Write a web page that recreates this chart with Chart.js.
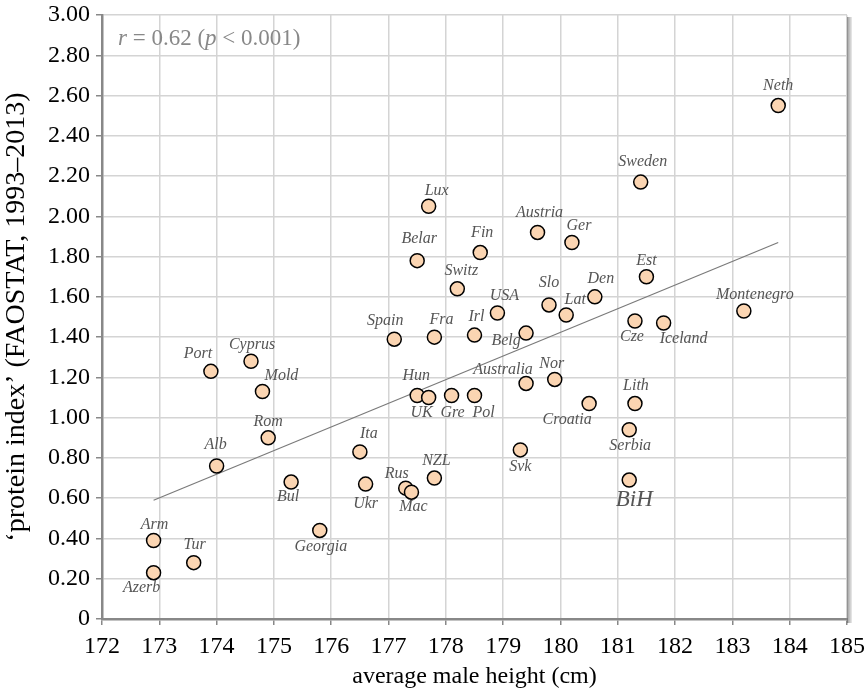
<!DOCTYPE html>
<html><head><meta charset="utf-8">
<script src="https://cdn.jsdelivr.net/npm/chart.js@4"></script>
<style>html,body{margin:0;padding:0;background:#fff}#wrap{width:867px;height:692px;position:relative}</style>
</head><body><div id="wrap"><canvas id="c"></canvas></div>
<script>
const countries = ['Neth','Sweden','Lux','Austria','Ger','Belar','Fin','Switz','Est','Den','Slo','Lat','USA','Montenegro','Cze','Iceland','Fra','Irl','Belg','Spain','Port','Cyprus','Mold','Hun','UK','Gre','Pol','Australia','Nor','Croatia','Lith','Serbia','Svk','BiH','NZL','Rus','Mac','Rom','Alb','Bul','Ita','Ukr','Georgia','Arm','Tur','Azerb'];
const heights = [183.8,181.4,177.7,179.6,180.2,177.5,178.6,178.2,181.5,180.6,179.8,180.1,178.9,183.2,181.3,181.8,177.8,178.5,179.4,177.1,173.9,174.6,174.8,177.5,177.7,178.1,178.5,179.4,179.9,180.5,181.3,181.2,179.3,181.2,177.8,177.3,177.4,174.9,174.0,175.3,176.5,176.6,175.8,172.9,173.6,172.9];
const proteinIndex = [2.55,2.17,2.05,1.92,1.87,1.78,1.82,1.64,1.70,1.60,1.56,1.51,1.52,1.53,1.48,1.47,1.40,1.41,1.42,1.39,1.23,1.28,1.13,1.11,1.10,1.11,1.11,1.17,1.19,1.07,1.07,0.94,0.84,0.69,0.70,0.65,0.63,0.90,0.76,0.68,0.83,0.67,0.44,0.39,0.28,0.23];
const trendHeights = [172.9, 183.8];
const trendProtein = [0.59, 1.87];
const xTitle = 'average male height (cm)';
const yTitle = '\u2018protein index\u2019 (FAOSTAT, 1993\u20132013)';

// label placement (style only): pixel offsets from the point
const labelOffsets = [[0,-20],[2,-20],[8,-15],[2,-20],[7,-17],[2,-22],[2,-20],[4,-18],[0,-16],[6,-18],[0,-22],[9,-15],[7,-17],[11,-16],[-3,16],[20,16],[7,-17],[2,-18],[-20,8],[-9,-18],[-13,-18],[1,-16],[19,-16],[-1,-20],[-7,15],[1,17],[9,17],[-23,-14],[-3,-16],[-22,16],[1,-18],[1,16],[0,17],[5,20],[2,-17],[-9,-14],[2,15],[0,-16],[-1,-21],[-3,15],[9,-18],[0,20],[1,16],[1,-16],[1,-18],[-12,15]];

const SERIF = "'Liberation Serif','Times New Roman',serif";

const labelPlugin = {
  id: 'labels',
  afterDatasetsDraw(chart) {
    const meta = chart.getDatasetMeta(1);
    const ctx = chart.ctx;
    ctx.save();
    ctx.fillStyle = '#555';
    ctx.textAlign = 'center';
    ctx.textBaseline = 'middle';
    meta.data.forEach((pt, i) => {
      const name = countries[i];
      const off = labelOffsets[i];
      ctx.font = (name === 'BiH' ? 'italic 23px ' : 'italic 16px ') + SERIF;
      ctx.fillText(name, pt.x + off[0], pt.y + off[1]);
    });
    ctx.restore();
  },
  afterDraw(chart) {
    const ctx = chart.ctx, a = chart.chartArea;
    ctx.save();
    const g = ctx.createLinearGradient(a.right, 0, a.right + 5, 0);
    g.addColorStop(0, 'rgba(0,0,0,0.4)');
    g.addColorStop(1, 'rgba(0,0,0,0.08)');
    ctx.fillStyle = g;
    ctx.fillRect(a.right, a.top + 2, 5, a.bottom - a.top + 2);
    const parts = [['r', true], [' = 0.62 (', false], ['p', true], [' < 0.001)', false]];
    let x = a.left + 16;
    const y = a.top + 24;
    ctx.fillStyle = '#888';
    ctx.textBaseline = 'middle';
    ctx.textAlign = 'left';
    parts.forEach(([t, it]) => {
      ctx.font = (it ? 'italic ' : '') + '23px ' + SERIF;
      ctx.fillText(t, x, y);
      x += ctx.measureText(t).width;
    });
    ctx.restore();
  }
};

function zeroPad(s) { s.paddingTop = 0; s.paddingBottom = 0; s.paddingLeft = 0; s.paddingRight = 0; }

new Chart(document.getElementById('c'), {
  type: 'scatter',
  data: {
    datasets: [
      {
        type: 'line',
        data: trendHeights.map((h, i) => ({x: h, y: trendProtein[i]})),
        borderColor: '#7a7a7a',
        borderWidth: 1.2,
        pointRadius: 0,
        fill: false,
        order: 2
      },
      {
        data: heights.map((h, i) => ({x: h, y: proteinIndex[i]})),
        backgroundColor: '#fbd5b2',
        borderColor: '#000',
        borderWidth: 1.5,
        pointRadius: 7,
        order: 1
      }
    ]
  },
  options: {
    responsive: true,
    maintainAspectRatio: false,
    animation: false,
    events: [],
    layout: {padding: {top: 15, right: 20, left: 0, bottom: 0}},
    plugins: {legend: {display: false}, tooltip: {enabled: false}},
    scales: {
      x: {
        type: 'linear', min: 172, max: 185,
        ticks: {stepSize: 1, font: {family: SERIF, size: 24}, color: '#000', padding: 7, maxRotation: 0},
        grid: {color: '#d4d4d4', lineWidth: 1.5, tickLength: 6, tickColor: '#888'},
        border: {color: '#888', width: 2.5},
        title: {display: true, text: xTitle, font: {family: SERIF, size: 24}, color: '#000', padding: {top: 0, bottom: 1}},
        afterFit: s => { s.height = 73; zeroPad(s); }
      },
      y: {
        type: 'linear', min: 0, max: 3,
        ticks: {stepSize: 0.2, font: {family: SERIF, size: 24}, color: '#000', padding: 6,
          callback: v => Math.abs(v) < 1e-9 ? '0' : v.toFixed(2)},
        grid: {color: '#d4d4d4', lineWidth: 1.5, tickLength: 6, tickColor: '#888'},
        border: {color: '#888', width: 2.5},
        title: {display: true, text: yTitle, font: {family: SERIF, size: 28}, color: '#000', padding: {top: 0, bottom: 0}},
        afterFit: s => { s.width = 102; zeroPad(s); }
      }
    }
  },
  plugins: [labelPlugin]
});
</script>
</body></html>
